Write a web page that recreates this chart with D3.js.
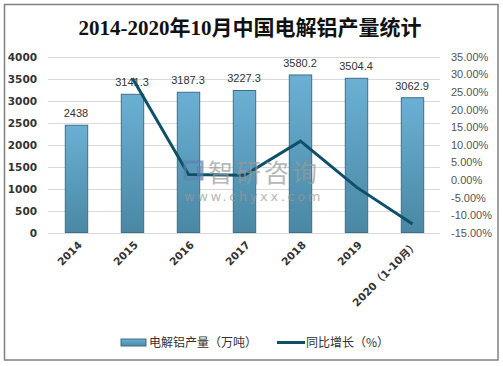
<!DOCTYPE html>
<html><head><meta charset="utf-8">
<script src="https://cdn.jsdelivr.net/npm/d3@7/dist/d3.min.js"></script>
<style>body{margin:0;background:#fff}svg{display:block}</style>
</head><body>
<script>
const categories = ["2014","2015","2016","2017","2018","2019","2020（1-10月）"];
const production = [2438, 3141.3, 3187.3, 3227.3, 3580.2, 3504.4, 3062.9];
const growth = [null, 28.85, 1.46, 1.25, 10.94, -2.12, -12.6];
const leftTicks = [0,500,1000,1500,2000,2500,3000,3500,4000];
const rightTicks = [-15,-10,-5,0,5,10,15,20,25,30,35];
const title = "2014-2020年10月中国电解铝产量统计";
const legendNames = ["电解铝产量（万吨）","同比增长（%）"];

const W=503,H=366;
const svg=d3.select("body").append("svg").attr("width",W).attr("height",H);
const defs=svg.append("defs");
const g=defs.append("linearGradient").attr("id","barg").attr("x1",0).attr("y1",0).attr("x2",0).attr("y2",1);
g.append("stop").attr("offset","0%").attr("stop-color","#6bb0d4");
g.append("stop").attr("offset","100%").attr("stop-color","#4a88a4");

svg.append("rect").attr("x",4.5).attr("y",4.5).attr("width",493.5).attr("height",355.5)
  .attr("fill","#fff").attr("stroke","#808080").attr("stroke-width",1.5);

svg.append("text").attr("x",250).attr("y",35).attr("text-anchor","middle")
  .attr("font-family","'Liberation Serif','Noto Sans CJK SC',serif").attr("font-size",21)
  .attr("font-weight","bold").attr("fill","#111").text(title);

const L=48,R=440,T=56.5,B=232.5;
const x=d3.scaleBand().domain(categories).range([L,R]).paddingInner(0.6).paddingOuter(0.3);
const x0=d3.scaleBand().domain(categories).range([L,R]);
const yL=d3.scaleLinear().domain([0,4000]).range([B,T]);
const yR=d3.scaleLinear().domain([-15,35]).range([B,T]);

// gridlines
svg.append("g").selectAll("line").data(leftTicks).join("line")
  .attr("x1",L).attr("x2",R).attr("y1",d=>Math.round(yL(d))+0.5).attr("y2",d=>Math.round(yL(d))+0.5)
  .attr("stroke","#d9d9d9").attr("stroke-width",1);

// left axis
const ax=d3.axisLeft(yL).tickValues(leftTicks).tickSize(0).tickPadding(0).tickFormat(d3.format("d"));
const gl=svg.append("g").attr("transform",`translate(37,0)`).call(ax);
gl.select(".domain").remove();
gl.selectAll("text").attr("font-family","'DejaVu Sans',sans-serif").attr("font-size",10.5)
  .attr("font-weight","bold").attr("fill","#333").attr("dy","0.35em");

// right axis
const ar=d3.axisRight(yR).tickValues(rightTicks).tickSize(0).tickPadding(0).tickFormat(d=>d.toFixed(2)+"%");
const gr=svg.append("g").attr("transform",`translate(451,0)`).call(ar);
gr.select(".domain").remove();
gr.selectAll("text").attr("font-family","'Liberation Sans',Arial,sans-serif").attr("font-size",11)
  .attr("fill","#555").attr("dy","0.35em");

// bars
svg.append("g").selectAll("rect").data(production).join("rect")
  .attr("x",(d,i)=>x(categories[i])+0.5).attr("width",x.bandwidth())
  .attr("y",d=>yL(d)).attr("height",d=>B-yL(d))
  .attr("fill","url(#barg)").attr("stroke","#3d6e87").attr("stroke-width",1);

// bar labels
svg.append("g").selectAll("text").data(production).join("text")
  .attr("x",(d,i)=>x(categories[i])+x.bandwidth()/2).attr("y",d=>yL(d)-8)
  .attr("text-anchor","middle").attr("font-family","'Liberation Sans',Arial,sans-serif")
  .attr("font-size",11).attr("fill","#333").text(d=>d);

// x axis labels
svg.append("g").selectAll("text").data(categories).join("text")
  .attr("transform",(d)=>`translate(${x0(d)+x0.bandwidth()/2+4},${243}) rotate(-45)`)
  .attr("text-anchor","end").attr("dy","0.35em")
  .attr("font-family","'DejaVu Sans','Noto Sans CJK SC',sans-serif").attr("font-size",10.5)
  .attr("font-weight","bold").attr("fill","#333").text(d=>d);

// line
const pts=growth.map((v,i)=>({v,c:categories[i]})).filter(d=>d.v!==null);
svg.append("path").datum(pts)
  .attr("d",d3.line().x(d=>x(d.c)+x.bandwidth()/2+0.5).y(d=>yR(d.v)))
  .attr("fill","none").attr("stroke","#0e5068").attr("stroke-width",3).attr("stroke-linejoin","miter");

// watermark
const wm=svg.append("g").attr("opacity",0.7);
wm.append("rect").attr("x",185).attr("y",162).attr("width",17).attr("height",17).attr("fill","none")
  .attr("stroke","#5b82b0").attr("stroke-width",3);
wm.append("rect").attr("x",197).attr("y",166).attr("width",5).attr("height",13).attr("fill","#5b82b0");
wm.append("text").attr("x",208).attr("y",182).attr("font-family","'Noto Sans CJK SC',sans-serif")
  .attr("font-size",25).attr("fill","#999").attr("letter-spacing",3).text("智研咨询");
wm.append("text").attr("x",184).attr("y",201).attr("font-family","'DejaVu Sans',sans-serif")
  .attr("font-size",13).attr("fill","#999").attr("letter-spacing",2.6).text("www.chyxx.com");

// legend
const lg=svg.append("g");
lg.append("rect").attr("x",121).attr("y",339).attr("width",25).attr("height",7)
  .attr("fill","url(#barg)").attr("stroke","#3d6e87");
lg.append("text").attr("x",149).attr("y",343).attr("dy","0.35em")
  .attr("font-family","'Noto Sans CJK SC',sans-serif").attr("font-size",12).attr("fill","#333").text(legendNames[0]);
lg.append("line").attr("x1",277).attr("x2",305).attr("y1",342.5).attr("y2",342.5)
  .attr("stroke","#0e5068").attr("stroke-width",3);
lg.append("text").attr("x",306).attr("y",343).attr("dy","0.35em")
  .attr("font-family","'Noto Sans CJK SC',sans-serif").attr("font-size",12).attr("fill","#333").text(legendNames[1]);
</script>
</body></html>
